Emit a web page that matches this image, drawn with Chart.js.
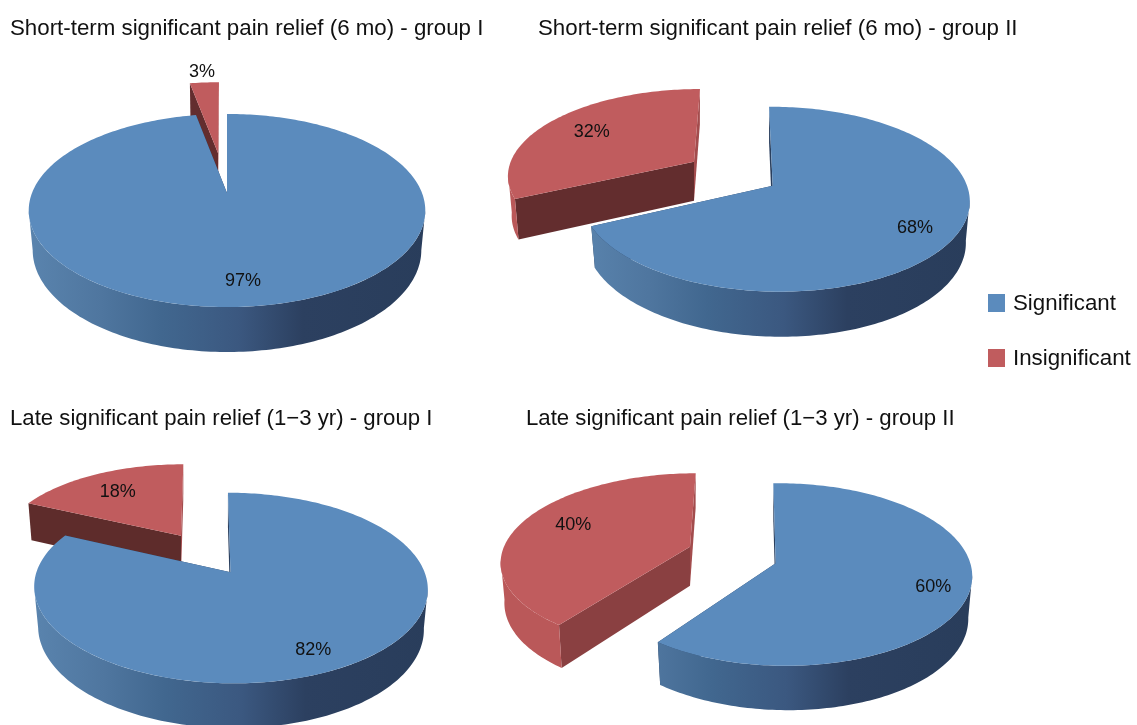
<!DOCTYPE html>
<html>
<head>
<meta charset="utf-8">
<script src="https://cdn.jsdelivr.net/npm/chart.js@4/dist/chart.umd.min.js"></script>
<style>
html,body{margin:0;padding:0;background:#fff;overflow:hidden;width:1137px;height:725px}
canvas{position:absolute;display:block}
.lg{position:absolute;font:22.3px "Liberation Sans",Arial,sans-serif;color:#111;line-height:26px;white-space:nowrap}
.sw{position:absolute;width:17px;height:18px}
</style>
</head>
<body>
<canvas id="c0"></canvas><canvas id="c1"></canvas><canvas id="c2"></canvas><canvas id="c3"></canvas>
<div class="sw" style="left:987.5px;top:293.5px;background:#5b8bbd"></div>
<div class="lg" style="left:1013px;top:290px">Significant</div>
<div class="sw" style="left:987.5px;top:349px;background:#c05c5e"></div>
<div class="lg" style="left:1013px;top:345px">Insignificant</div>
<script>
const categories = ['Significant', 'Insignificant'];
const titles = [
  'Short-term significant pain relief (6 mo) - group I',
  'Short-term significant pain relief (6 mo) - group II',
  'Late significant pain relief (1\u22123 yr) - group I',
  'Late significant pain relief (1\u22123 yr) - group II'
];
const valuesShortI = [97, 3];
const valuesShortII = [68, 32];
const valuesLateI = [82, 18];
const valuesLateII = [60, 40];
const allValues = [valuesShortI, valuesShortII, valuesLateI, valuesLateII];

// layout: canvas boxes, title placement
const boxes = [
  {left:0,top:0,width:490,height:385,titleLeft:10,titleTop:15.6,titleSize:22.3},
  {left:490,top:0,width:647,height:385,titleLeft:48,titleTop:15.6,titleSize:22.3},
  {left:0,top:385,width:490,height:340,titleLeft:10,titleTop:20.6,titleSize:22.2},
  {left:490,top:385,width:647,height:340,titleLeft:36,titleTop:20.6,titleSize:22.2}
];
// perspective view of each slice's disc (page pixels): [significant, insignificant]
const views = [
  [{x:227,y:193,R:195,Rt:93.4,k:.181,m:0,s:0,h:38.7},{x:218,y:153,R:175,Rt:80,k:.13,m:0,s:-1.1,h:38}],
  [{x:772.7,y:185.7,R:192.1,Rt:90.5,k:.146,m:.0114,s:4.2,h:40.3},{x:694,y:161.7,R:183.3,Rt:82.5,k:.135,m:0,s:-6.8,h:39}],
  [{x:230.5,y:572.3,R:194.1,Rt:92.7,k:.165,m:0,s:3,h:39.2},{x:181,y:535.7,R:178.4,Rt:79.9,k:.119,m:0,s:-2.6,h:38}],
  [{x:775.7,y:563.3,R:188.2,Rt:89.8,k:.123,m:.033,s:2.7,h:40.7},{x:690,y:546.7,R:186,Rt:84.7,k:.154,m:0,s:-6.6,h:39}]
];
const labelAnchors = [
  [[243,281],[202,72.5]],
  [[915,228.5],[591.7,132]],
  [[313.3,650.5],[117.7,492.5]],
  [[933.3,587.5],[573.3,525.5]]
];
const topColors = ['#5b8bbd', '#c05c5e'];
const redRadial = ['#632d2e', '#632d2e', '#5e2c2b', '#8a4041'];
const BOTTOM_SCALE = 0.98;

function topPt(p,u,v){const w=1-p.k*v-p.m*u;return [p.x+(p.R*u+p.s*v)/w,p.y+p.Rt*v/w];}
function botPt(p,u,v){const w=1-p.k*v-p.m*u;const f=BOTTOM_SCALE;return [p.x+f*(p.R*u+p.s*v)/w,p.y+(f*p.Rt*v+p.h)/w];}

function rimPath(ctx,fn,p,a0,a1,first){
  const n=Math.max(8,Math.ceil(Math.abs(a1-a0)/0.02));
  for(let i=0;i<=n;i++){
    const a=a0+(a1-a0)*i/n,q=fn(p,Math.cos(a),Math.sin(a));
    if(i===0&&first)ctx.moveTo(q[0],q[1]);else ctx.lineTo(q[0],q[1]);
  }
}
function radial(ctx,p,a,color){
  const u=Math.cos(a),v=Math.sin(a);
  const pts=[topPt(p,0,0),topPt(p,u,v),botPt(p,u,v),botPt(p,0,0)];
  ctx.beginPath();pts.forEach((q,i)=>i?ctx.lineTo(q[0],q[1]):ctx.moveTo(q[0],q[1]));ctx.closePath();
  ctx.fillStyle=color;ctx.fill();
}
function blueWall(ctx,p){
  const l=p.x-p.R*1.02,r=p.x+p.R*1.05;
  const g=ctx.createLinearGradient(l,0,r,0);
  g.addColorStop(0,'#5a84ae');g.addColorStop(.18,'#4f769f');g.addColorStop(.33,'#41678f');
  g.addColorStop(.52,'#3b5880');g.addColorStop(.68,'#2c4060');g.addColorStop(1,'#293d5b');
  return g;
}
const pie3d={
  id:'pie3d',
  beforeDatasetsDraw(chart,args,opts){
    const ctx=chart.ctx,meta=chart.getDatasetMeta(0),idx=opts.index,box=boxes[idx];
    ctx.save();
    ctx.translate(-box.left,-box.top);
    // insignificant slice sits behind the significant one
    for(let i=meta.data.length-1;i>=0;i--){
      const arc=meta.data[i],p=views[idx][i],a0=arc.startAngle,a1=arc.endAngle;
      const isBlue=i===0;
      radial(ctx,p,a1,isBlue?'#2a3f5e':'#a34c4d');
      radial(ctx,p,a0,isBlue?'#2a3f5e':redRadial[idx]);
      // the outer wall only shows on the part of the rim facing the viewer
      const sil=Math.asin(p.k);
      const w0=Math.max(a0,sil),w1=Math.min(a1,Math.PI-sil);
      if(w1>w0){
        ctx.beginPath();
        rimPath(ctx,topPt,p,w0,w1,true);
        rimPath(ctx,botPt,p,w1,w0,false);
        ctx.closePath();
        ctx.fillStyle=isBlue?blueWall(ctx,p):'#ba5859';
        ctx.fill();
      }
      ctx.beginPath();
      const c=topPt(p,0,0);ctx.moveTo(c[0],c[1]);
      rimPath(ctx,topPt,p,a0,a1,false);
      ctx.closePath();
      ctx.fillStyle=topColors[i];
      ctx.fill();
    }
    ctx.fillStyle='#111';
    ctx.font='18px "Liberation Sans", Arial, sans-serif';
    ctx.textAlign='center';ctx.textBaseline='middle';
    chart.data.datasets[0].data.forEach((val,i)=>{
      const q=labelAnchors[idx][i];
      ctx.fillText(val+'%',q[0],q[1]);
    });
    ctx.restore();
    return false;
  }
};

allValues.forEach((vals,idx)=>{
  const box=boxes[idx],cv=document.getElementById('c'+idx);
  cv.width=box.width;cv.height=box.height;
  cv.style.left=box.left+'px';cv.style.top=box.top+'px';
  cv.style.width=box.width+'px';cv.style.height=box.height+'px';
  new Chart(cv,{
    type:'pie',
    data:{labels:categories,datasets:[{data:vals,backgroundColor:topColors,borderWidth:0}]},
    options:{
      responsive:false,animation:false,devicePixelRatio:1,
      layout:{padding:{left:box.titleLeft}},
      events:[],
      plugins:{
        legend:{display:false},tooltip:{enabled:false},
        title:{display:true,text:titles[idx],align:'start',color:'#111',
          font:{family:'"Liberation Sans", Arial, sans-serif',size:box.titleSize,weight:'normal',lineHeight:1.2},
          padding:{top:box.titleTop,bottom:0}},
        pie3d:{index:idx}
      }
    },
    plugins:[pie3d]
  });
});
</script>
</body>
</html>
